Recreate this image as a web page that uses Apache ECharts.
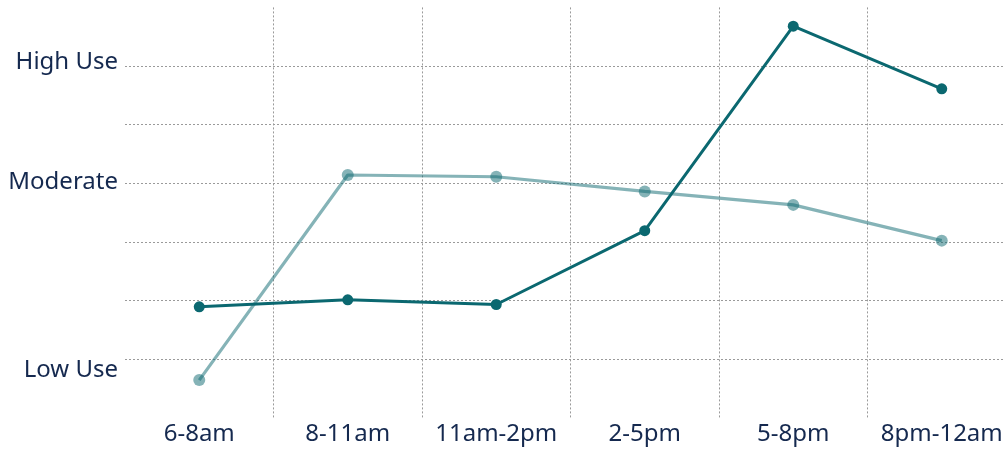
<!DOCTYPE html>
<html>
<head>
<meta charset="utf-8">
<script src="https://cdn.jsdelivr.net/npm/echarts@6/dist/echarts.min.js"></script>
<style>
  html, body { margin: 0; padding: 0; background: #ffffff; }
  #chart { width: 1005px; height: 449px; }
</style>
</head>
<body>
<div id="chart"></div>
<script>
// Time-of-day periods along the horizontal axis
const periods = ['6-8am', '8-11am', '11am-2pm', '2-5pm', '5-8pm', '8pm-12am'];

// Usage level per period (0 = none, 7 = top of scale)
const darkSeries = [1.89, 2.01, 1.93, 3.19, 6.68, 5.61];
const lightSeries = [0.64, 4.14, 4.11, 3.86, 3.63, 3.02];

// Named levels shown on the vertical axis
const levelNames = { 6: 'High Use', 4: 'Moderate', 1: 'Low Use' };

const textColor = '#15294f';
const dark = '#0b6870';
const light = 'rgba(11, 104, 112, 0.5)';
const gridDots = { color: '#9a9a9a', width: 1, type: [2, 2] };

const chart = echarts.init(document.getElementById('chart'), null, { renderer: 'canvas' });

chart.setOption({
  animation: false,
  // the last category band runs a little past the right edge of the page
  grid: {
    left: 125, top: 7.4, width: 891, height: 410.2,
    containLabel: false,
    outerBoundsMode: 'none'
  },
  xAxis: {
    type: 'category',
    data: periods,
    boundaryGap: true,
    axisLine: { show: false },
    axisTick: { show: false },
    axisLabel: {
      interval: 0,
      margin: 5,
      color: textColor,
      fontFamily: 'Noto Sans',
      fontSize: 24
    },
    splitLine: {
      show: true,
      interval: 0,
      showMinLine: false,
      showMaxLine: false,
      lineStyle: gridDots
    }
  },
  yAxis: {
    type: 'value',
    min: 0,
    max: 7,
    interval: 1,
    axisLine: { show: false },
    axisTick: { show: false },
    axisLabel: {
      margin: 7,
      color: textColor,
      fontFamily: 'Noto Sans',
      fontSize: 24,
      formatter: function (v) {
        if (v === 6) return '{high|' + levelNames[6] + '}';
        if (v === 4) return '{mod|' + levelNames[4] + '}';
        if (v === 1) return '{low|' + levelNames[1] + '}';
        return '';
      },
      rich: {
        high: { fontFamily: 'Noto Sans', fontSize: 24, color: textColor, padding: [0, 0, 8, 0] },
        mod: { fontFamily: 'Noto Sans', fontSize: 24, color: textColor, padding: [0, 0, 2, 0] },
        low: { fontFamily: 'Noto Sans', fontSize: 24, color: textColor, padding: [22, 0, 0, 0] }
      }
    },
    splitLine: {
      show: true,
      showMinLine: false,
      showMaxLine: false,
      lineStyle: gridDots
    }
  },
  series: [
    {
      name: 'Secondary',
      type: 'line',
      data: lightSeries,
      symbol: 'circle',
      symbolSize: 12,
      lineStyle: { color: light, width: 3.2 },
      itemStyle: { color: light },
      z: 2
    },
    {
      name: 'Primary',
      type: 'line',
      data: darkSeries,
      symbol: 'circle',
      symbolSize: 11,
      lineStyle: { color: dark, width: 3 },
      itemStyle: { color: dark },
      z: 3
    }
  ]
});
</script>
</body>
</html>
